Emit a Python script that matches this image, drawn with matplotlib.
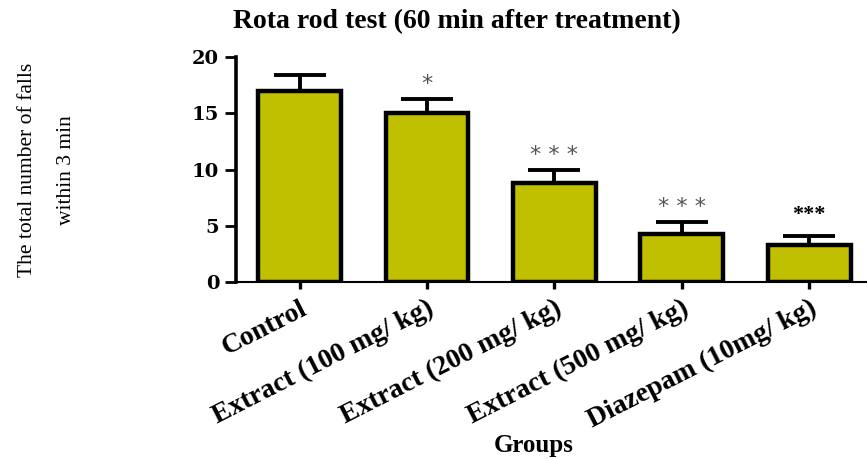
import matplotlib
matplotlib.use("Agg")
import matplotlib.pyplot as plt
import numpy as np

groups = ["Control", "Extract (100 mg/ kg)", "Extract (200 mg/ kg)",
          "Extract (500 mg/ kg)", "Diazepam (10mg/ kg)"]
falls_mean = [17.0, 15.0, 8.8, 4.3, 3.3]
falls_sem = [1.4, 1.3, 1.2, 1.05, 0.8]
significance = ["", "*", "* * *", "* * *", "***"]
yticks = [0, 5, 10, 15, 20]

BAR_COLOR = "#C0C000"

fig = plt.figure(figsize=(8.67, 4.59), dpi=100)
ax = fig.add_axes([0.272, 0.3856, 0.7347, 0.4902])

x = np.arange(len(groups))
ax.errorbar(x, falls_mean, yerr=[np.zeros(len(x)), falls_sem], fmt="none",
            ecolor="black", elinewidth=2.8, capsize=19, capthick=2.8, zorder=2)
ax.bar(x, falls_mean, width=0.65, color=BAR_COLOR, edgecolor="black",
       linewidth=3.2, zorder=3)

# significance stars above the error caps
for xi, m, e, s in zip(x, falls_mean, falls_sem, significance):
    if not s:
        continue
    if s == "***":
        ax.text(xi, m + e + 1.9, s, ha="center", va="center", fontsize=16,
                family="Liberation Serif", fontweight="bold", color="black")
    else:
        ax.text(xi, m + e + 1.3, s, ha="center", va="center", fontsize=16,
                family="DejaVu Sans", color="#555555")

ax.set_xlim(-0.5, 4.5)
ax.set_ylim(0, 20)
ax.set_yticks(yticks)
ax.set_yticklabels([str(t) for t in yticks], family="DejaVu Serif",
                   fontweight="bold", fontsize=14)
ax.set_xticks(x)
ax.set_xticklabels(groups, rotation=27, ha="right", va="top",
                   rotation_mode="anchor", family="Liberation Serif",
                   fontweight="bold", fontsize=20)

for side in ("top", "right"):
    ax.spines[side].set_visible(False)
ax.spines["left"].set_linewidth(2.6)
ax.spines["bottom"].set_linewidth(1.5)
ax.tick_params(axis="y", width=2, length=8, pad=4)
ax.tick_params(axis="x", width=2.4, length=5, pad=5)

fig.text(0.527, 0.952, "Rota rod test (60 min after treatment)", ha="center",
         va="center", family="Liberation Serif", fontweight="bold", fontsize=20)
fig.text(0.054, 0.63, "The total number of falls\nwithin 3 min", rotation=90,
         ha="center", va="center", multialignment="center",
         family="Liberation Serif", fontsize=15.5, linespacing=2.4)
fig.text(0.616, 0.016, "Groups", ha="center", va="baseline",
         family="Liberation Serif", fontweight="bold", fontsize=18)

fig.savefig("out.png", dpi=100)
